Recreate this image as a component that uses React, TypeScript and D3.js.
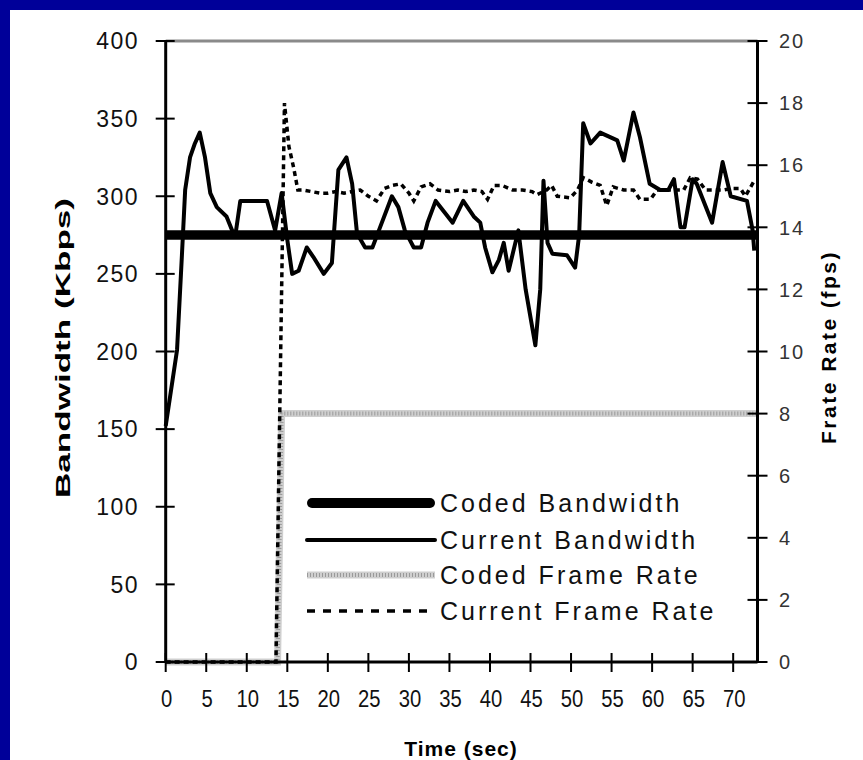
import React from 'react';
import * as d3 from 'd3';

// Axis tick values
const timeTicks = [0, 5, 10, 15, 20, 25, 30, 35, 40, 45, 50, 55, 60, 65, 70];
const bandwidthTicks = [0, 50, 100, 150, 200, 250, 300, 350, 400];
const fpsTicks = [0, 2, 4, 6, 8, 10, 12, 14, 16, 18, 20];

// Series: [time (sec), value]
const codedBandwidth: [number, number][] = [[0, 275], [73, 275]];

const currentBandwidth: [number, number][] = [
  [0, 152], [1.4, 201], [2, 262], [2.4, 304], [3.0, 325], [3.6, 334], [4.2, 341],
  [4.85, 325], [5.5, 302], [6.3, 293], [7.5, 287], [8.2, 278], [8.6, 275],
  [9.2, 297], [12.5, 297], [13.5, 278], [14.3, 302], [15, 272], [15.6, 250],
  [16.4, 252], [17.4, 267], [18.2, 261], [19.5, 250], [20.5, 257], [21.3, 317],
  [22.3, 325], [23, 308], [23.6, 276], [24.6, 267], [25.5, 267], [26.3, 278],
  [27.9, 300], [28.7, 293], [29.5, 278], [30.6, 267], [31.5, 267], [32.3, 283],
  [33.3, 297], [35.4, 283], [36.7, 297], [38, 287], [38.8, 283], [39.4, 267],
  [40.3, 251], [41.1, 259], [41.7, 270], [42.3, 252], [43.5, 278], [44.4, 240],
  [45.6, 204], [46.2, 240], [46.6, 310], [47.1, 270], [47.7, 263], [49.5, 262],
  [50.5, 254], [51, 275], [51.5, 347], [52.4, 334], [53.6, 341], [55.7, 336],
  [56.5, 323], [57.7, 354], [58.5, 338], [59.7, 308], [61, 304], [62, 304],
  [62.7, 311], [63.5, 280], [64, 280], [65, 311], [65.5, 308], [67.4, 283],
  [68.7, 322], [69.7, 300], [71.7, 297], [72.4, 278], [72.6, 265],
];

const codedFrameRate: [number, number][] = [[0, 0], [13.8, 0], [14.3, 8], [73, 8]];

const currentFrameRate: [number, number][] = [
  [0, 0], [13.6, 0], [14.65, 18], [15.2, 16.6], [15.8, 15.9], [16.3, 15.2],
  [17, 15.2], [18, 15.15], [19, 15.1], [20, 15.1], [21, 15.15], [22, 15.1],
  [23, 15.15], [24, 15.2], [25, 15.0], [26, 14.85], [27, 15.25], [28, 15.35],
  [29, 15.4], [30, 15.1], [30.6, 14.85], [31.5, 15.3], [32.6, 15.4], [33.6, 15.2],
  [35, 15.15], [36, 15.2], [37, 15.15], [38, 15.2], [39, 15.15], [39.7, 14.9],
  [40.5, 15.35], [41.5, 15.35], [42.8, 15.2], [44, 15.2], [45.2, 15.15],
  [45.8, 15.05], [47, 15.2], [47.6, 15.35], [48.3, 15.0], [49.9, 14.95],
  [50.8, 15.2], [51.5, 15.6], [52.6, 15.45], [53.6, 15.35], [54.4, 14.7],
  [55.2, 15.3], [56.5, 15.2], [57.7, 15.2], [58.5, 14.9], [59.8, 14.9],
  [60.6, 15.2], [62.6, 15.2], [63.9, 15.2], [64.7, 15.6], [65.6, 15.55],
  [66.6, 15.2], [67.6, 15.2], [68.8, 15.2], [69.8, 15.25], [70.9, 15.25],
  [71.5, 15.0], [72.6, 15.5],
];

const legendLabels = ['Coded Bandwidth', 'Current Bandwidth', 'Coded Frame Rate', 'Current Frame Rate'];

const FONT = 'Liberation Sans, Arimo, Arial, Helvetica, sans-serif';

export default function App() {
  const W = 863;
  const H = 760;
  const left = 165.7;
  const right = 757.5;
  const top = 41;
  const bottom = 662;

  const x = d3.scaleLinear().domain([0, 73]).range([left, right]);
  const yBw = d3.scaleLinear().domain([0, 400]).range([bottom, top]);
  const yFps = d3.scaleLinear().domain([0, 20]).range([bottom, top]);

  const bwLine = d3.line<[number, number]>().x(d => x(d[0])).y(d => yBw(d[1]));
  const fpsLine = d3.line<[number, number]>().x(d => x(d[0])).y(d => yFps(d[1]));

  const legendX0 = 307;
  const legendX1 = 435;
  const legendRows = [503, 540, 575, 611];

  return (
    <svg width={W} height={H} style={{ position: 'absolute', left: 0, top: 0 }} fontFamily={FONT}>
      {/* frame */}
      <rect x={0} y={0} width={W} height={H} fill="#000099" />
      <rect x={10} y={10} width={W - 10} height={H - 10} fill="#ffffff" />

      {/* top border of the plot area */}
      <line x1={left} x2={right} y1={top} y2={top} stroke="#8a8a8a" strokeWidth={3} />

      {/* coded frame rate (textured gray) */}
      <path d={fpsLine(codedFrameRate) || ''} fill="none" stroke="#cfcfcf" strokeWidth={7} />
      <path d={fpsLine(codedFrameRate) || ''} fill="none" stroke="#9a9a9a" strokeWidth={4} strokeDasharray="1 2" />

      {/* coded bandwidth */}
      <path d={bwLine(codedBandwidth) || ''} fill="none" stroke="#000" strokeWidth={9.5} />

      {/* current frame rate */}
      <path d={fpsLine(currentFrameRate) || ''} fill="none" stroke="#000" strokeWidth={3.5} strokeDasharray="5 4" />

      {/* current bandwidth */}
      <path d={bwLine(currentBandwidth) || ''} fill="none" stroke="#000" strokeWidth={4} strokeLinejoin="round" />

      {/* axes */}
      <line x1={left} x2={left} y1={top} y2={bottom} stroke="#000" strokeWidth={3} />
      <line x1={right} x2={right} y1={top} y2={bottom} stroke="#000" strokeWidth={3} />
      <line x1={left} x2={right} y1={bottom} y2={bottom} stroke="#000" strokeWidth={3} />

      {/* left ticks */}
      {bandwidthTicks.map(t => (
        <g key={`bl${t}`}>
          <line x1={left - 10} x2={left + 9} y1={yBw(t)} y2={yBw(t)} stroke="#000" strokeWidth={2} />
          <text x={139} y={yBw(t)} dy="0.36em" textAnchor="end" fontSize={23} letterSpacing={1.5} fill="#111">
            {t}
          </text>
        </g>
      ))}

      {/* right ticks */}
      {fpsTicks.map(t => (
        <g key={`fr${t}`}>
          <line x1={right - 10} x2={right + 10} y1={yFps(t)} y2={yFps(t)} stroke="#000" strokeWidth={2} />
          <text x={779} y={yFps(t)} dy="0.36em" textAnchor="start" fontSize={20} letterSpacing={2} fill="#333">
            {t}
          </text>
        </g>
      ))}

      {/* bottom ticks */}
      {timeTicks.map(t => (
        <g key={`tx${t}`}>
          <line x1={x(t)} x2={x(t)} y1={bottom - 9} y2={bottom + 10} stroke="#000" strokeWidth={2} />
          <text transform={`translate(${x(t) + 1},707) scale(0.88,1)`} textAnchor="middle" fontSize={23} fill="#111">
            {t}
          </text>
        </g>
      ))}

      {/* axis titles */}
      <text transform="translate(70,348) rotate(-90)" textAnchor="middle" fontSize={21} fontWeight="bold"
        textLength={300} lengthAdjust="spacingAndGlyphs">
        Bandwidth (Kbps)
      </text>
      <text transform="translate(836,347) rotate(-90)" textAnchor="middle" fontSize={21} fontWeight="bold" letterSpacing={2.5}>
        Frate Rate (fps)
      </text>
      <text x={461} y={756} textAnchor="middle" fontSize={21} fontWeight="bold" letterSpacing={1}>
        Time (sec)
      </text>

      {/* legend */}
      <line x1={legendX0 + 5} x2={legendX1 - 5} y1={legendRows[0]} y2={legendRows[0]} stroke="#000" strokeWidth={10} strokeLinecap="round" />
      <line x1={legendX0} x2={legendX1} y1={legendRows[1]} y2={legendRows[1]} stroke="#000" strokeWidth={4} strokeLinecap="round" />
      <line x1={legendX0} x2={legendX1} y1={legendRows[2]} y2={legendRows[2]} stroke="#cfcfcf" strokeWidth={7} />
      <line x1={legendX0} x2={legendX1} y1={legendRows[2]} y2={legendRows[2]} stroke="#9a9a9a" strokeWidth={4} strokeDasharray="1 2" />
      <line x1={legendX0} x2={legendX1} y1={legendRows[3]} y2={legendRows[3]} stroke="#000" strokeWidth={3.5} strokeDasharray="8 8" />
      {legendLabels.map((label, i) => (
        <text key={label} x={440} y={legendRows[i]} dy="0.36em" fontSize={25} letterSpacing={3} fill="#111">
          {label}
        </text>
      ))}
    </svg>
  );
}
